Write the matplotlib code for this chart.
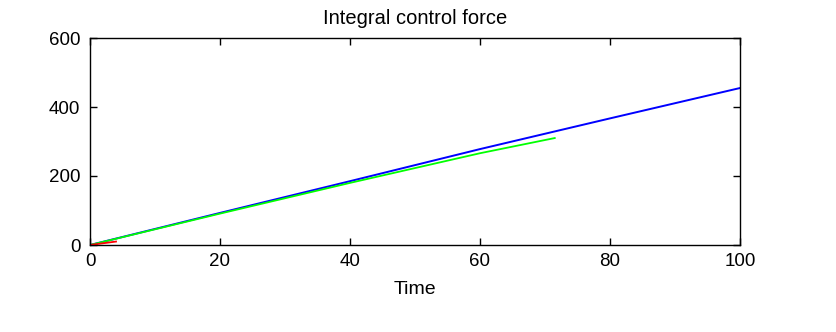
import matplotlib
matplotlib.use("Agg")
import matplotlib.pyplot as plt

# values
blue_t = [0, 20, 40, 60, 80, 100]
blue_f = [0, 93, 185, 278, 367, 455]
green_t = [0, 20, 40, 60, 71.5]
green_f = [0, 91, 180, 266, 310]
red_t = [0, 2, 4]
red_f = [0, 5, 10]

xticks = [0, 20, 40, 60, 80, 100]
yticks = [0, 200, 400, 600]

plt.rcParams['font.family'] = ['Liberation Sans', 'DejaVu Sans']

fig = plt.figure(figsize=(8.36, 3.32), dpi=100)
ax = fig.add_axes([90/836, 87/332, 650/836, 207/332])

ax.plot(blue_t, blue_f, color='#0000ff', lw=1.4)
ax.plot(green_t, green_f, color='#00ff00', lw=1.3)
ax.plot(red_t, red_f, color='#ff0000', lw=1.3)

ax.set_xlim(0, 100)
ax.set_ylim(0, 600)
ax.set_xticks(xticks)
ax.set_yticks(yticks)
ax.tick_params(direction='in', top=True, right=True, labelsize=13.5, length=5, width=1)
ax.tick_params(axis='x', pad=6)
ax.tick_params(axis='y', pad=7)
for s in ax.spines.values():
    s.set_linewidth(1)

ax.set_title('Integral control force', fontsize=14.5, pad=10)
ax.set_xlabel('Time', fontsize=14, labelpad=8)

fig.savefig('out.png', dpi=100)
